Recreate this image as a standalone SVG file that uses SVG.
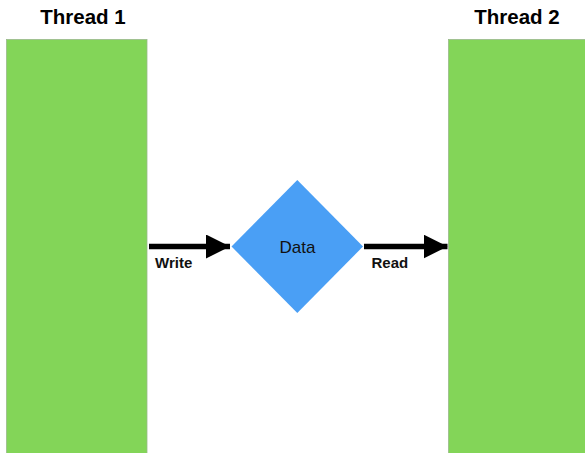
<svg xmlns="http://www.w3.org/2000/svg" width="585" height="453" viewBox="0 0 585 453">
<style>
.thread{fill:#83d558;stroke:#9ab88a;stroke-width:0.8}
.title{font-family:"Liberation Sans",Arial,sans-serif;font-weight:bold;font-size:20.5px;fill:#000;text-anchor:middle}
.lbl{font-family:"Liberation Sans",Arial,sans-serif;font-weight:bold;font-size:15px;fill:#111}
.data{font-family:"Liberation Sans",Arial,sans-serif;font-size:17px;fill:#111;text-anchor:middle}
.conn{stroke:#000;stroke-width:5.5;fill:none}
</style>
<defs>
<marker id="ah" markerUnits="userSpaceOnUse" markerWidth="24" markerHeight="24" refX="24" refY="12" orient="auto">
<path d="M0,0 L24,12 L0,24 Z" fill="#000"/>
</marker>
</defs>
<rect width="585" height="453" fill="#fff"/>
<g id="thread1">
<rect class="thread" x="6.5" y="39.5" width="140.5" height="420"/>
<text class="title" x="83" y="24">Thread 1</text>
</g>
<g id="thread2">
<rect class="thread" x="448.5" y="39.5" width="140" height="420"/>
<text class="title" x="517" y="24">Thread 2</text>
</g>
<g id="data">
<polygon points="297.3,180 363,246.5 297.3,313 231.5,246.5" fill="#4a9ff5"/>
<text class="data" x="297.5" y="253">Data</text>
</g>
<g id="connectors">
<g id="write">
<line class="conn" x1="149" y1="246.5" x2="230" y2="246.5" marker-end="url(#ah)"/>
<text class="lbl" x="155" y="268">Write</text>
</g>
<g id="read">
<line class="conn" x1="364" y1="246.5" x2="447.5" y2="246.5" marker-end="url(#ah)"/>
<text class="lbl" x="371.5" y="268">Read</text>
</g>
</g>
</svg>
